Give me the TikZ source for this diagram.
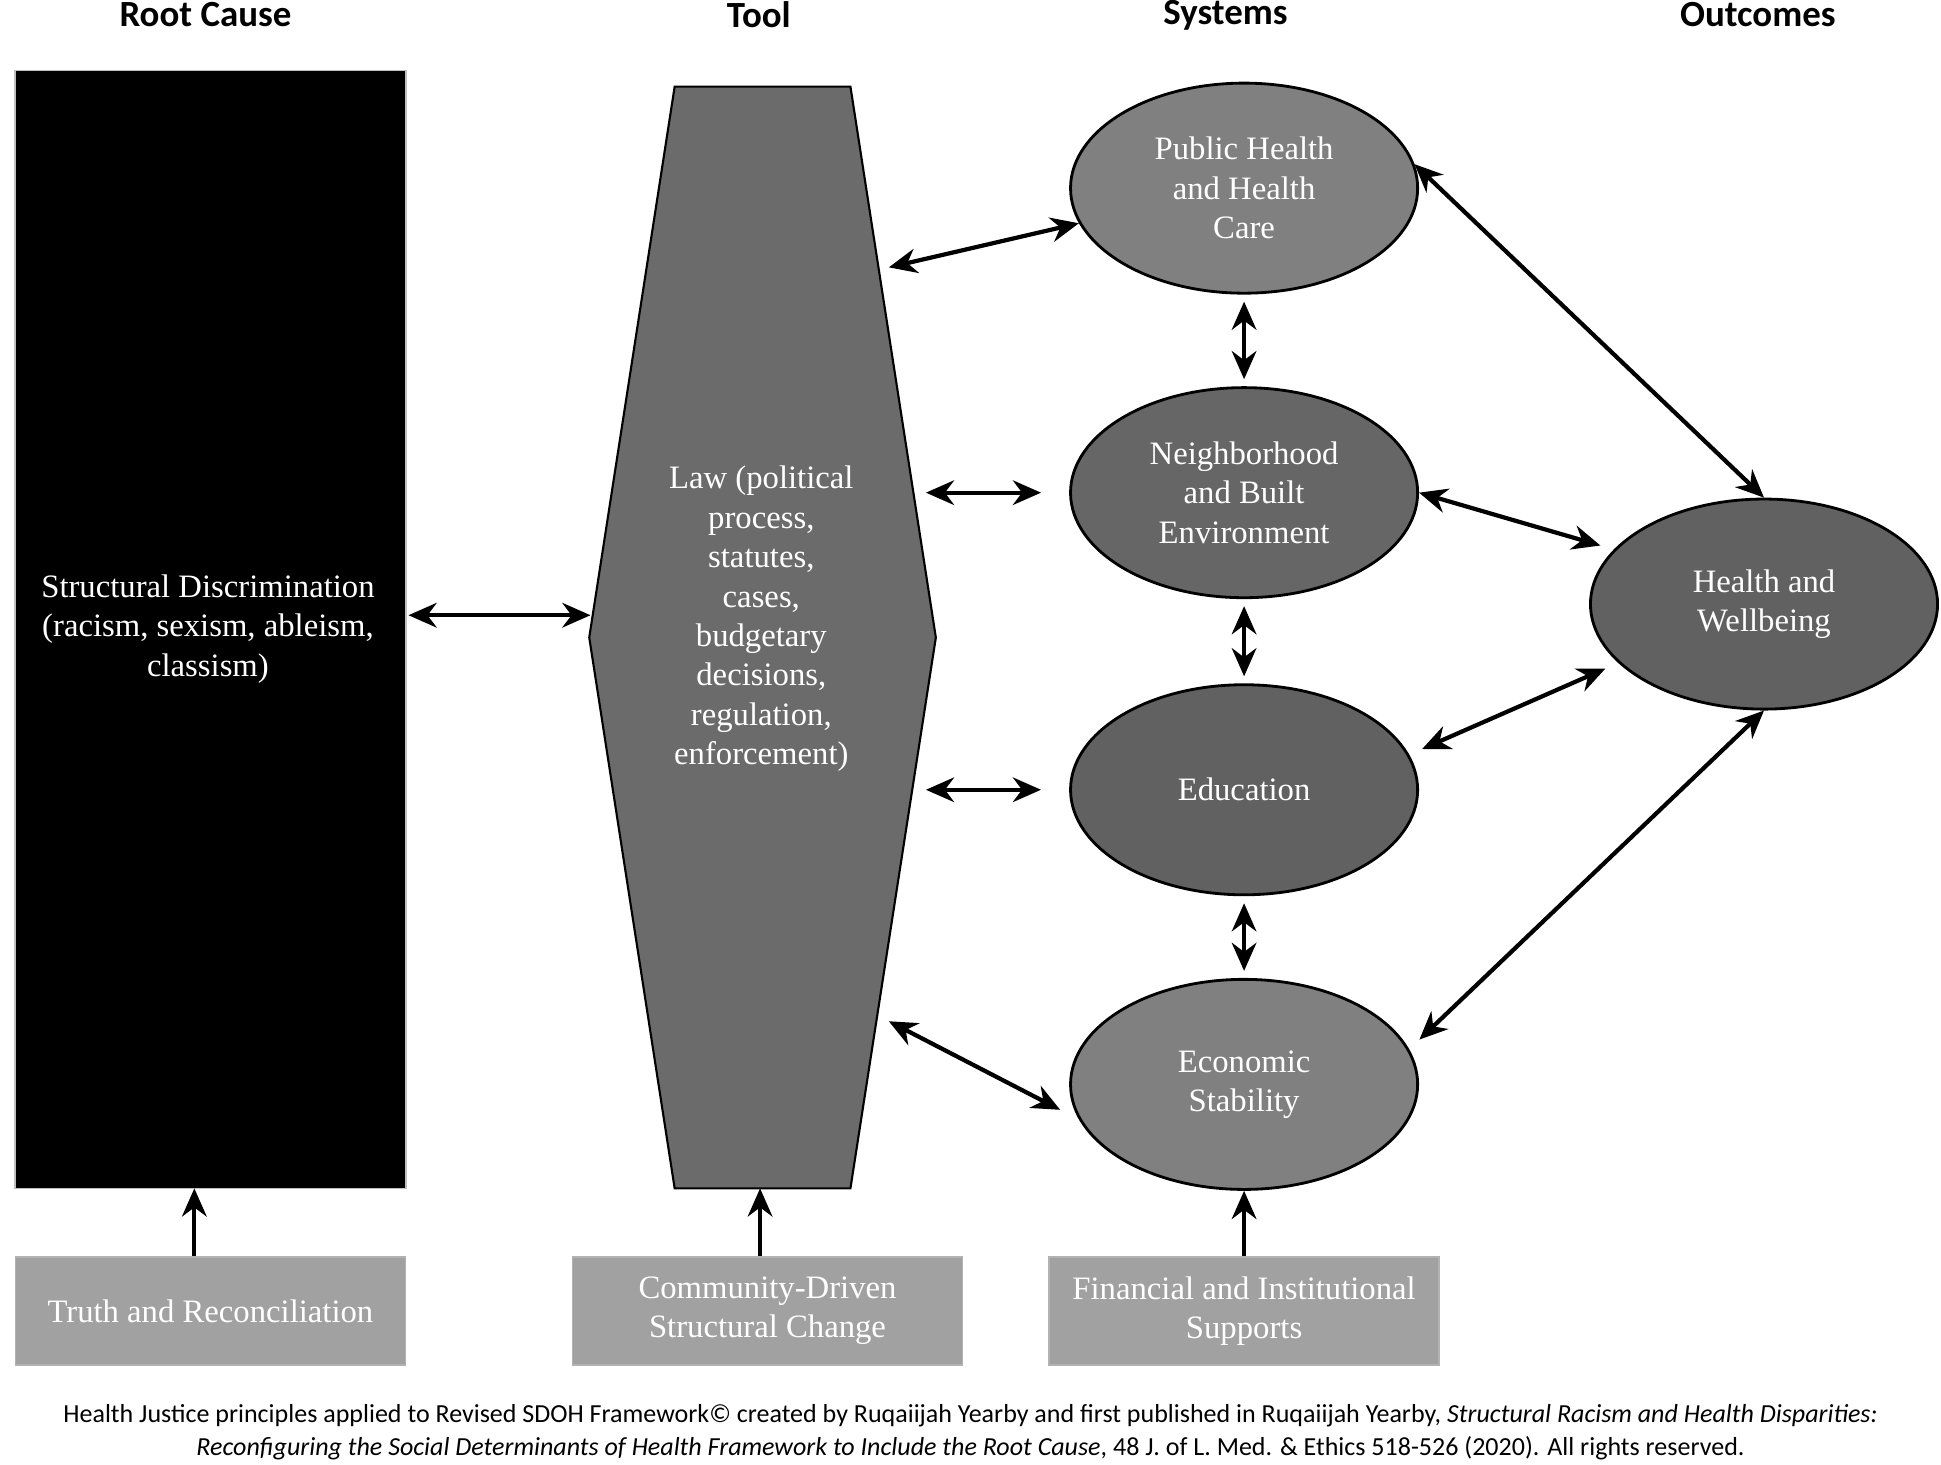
\documentclass[tikz,border=0pt]{standalone}
\usepackage{fontspec}
\setmainfont{Liberation Serif}
\newfontfamily\hdrfont{Carlito}
\usetikzlibrary{shapes.geometric,arrows.meta}
\tikzset{
  hdr/.style={font=\hdrfont\bfseries\fontsize{10.5}{12}\selectfont},
  sys/.style={ellipse, draw=black, line width=0.8pt, minimum width=3.47cm, minimum height=2.1cm,
    text=white, align=center, font=\fontsize{9.3}{11.2}\selectfont},
  base/.style={rectangle, draw=gray!60, fill=black!37, text=white, align=center,
    minimum width=3.9cm, minimum height=1.08cm, font=\fontsize{9.3}{11.2}\selectfont},
  link/.style={line width=1.2pt, {Stealth[length=8pt,width=7pt]}-{Stealth[length=8pt,width=7pt]}},
  up/.style={line width=1.2pt, -{Stealth[length=8pt,width=7pt]}}
}
\begin{document}
\begin{tikzpicture}[x=0.01238cm, y=-0.01238cm]
\useasboundingbox (0,0) rectangle (1568,1183);
% headers
\node[hdr] at (166,12) {Root Cause};
\node[hdr] at (613,12) {Tool};
\node[hdr] at (990,12) {Systems};
\node[hdr] at (1420,12) {Outcomes};

% root cause
\draw[fill=black, draw=gray!50] (12,57) rectangle (328,960);
\node[text=white, align=center, font=\fontsize{9.3}{11.2}\selectfont] (root) at (168,508)
  {Structural Discrimination\\(racism, sexism, ableism,\\classism)};
\coordinate (rootE) at (330,497);
\coordinate (rootB) at (157,960);

% tool
\draw[fill=black!58, draw=black, line width=0.6pt]
  (545,70) -- (687,70) -- (756,515) -- (687,960) -- (545,960) -- (476,515) -- cycle;
\node[text=white, align=center, font=\fontsize{9.3}{11.2}\selectfont] (law) at (615,500)
  {Law (political\\process,\\statutes,\\cases,\\budgetary\\decisions,\\regulation,\\enforcement)};
\coordinate (lawW) at (477,497);
\coordinate (lawA) at (718,216);
\coordinate (lawB) at (748,398);
\coordinate (lawC) at (748,638);
\coordinate (lawD) at (718,825);
\coordinate (lawS) at (614,960);

% systems
\node[sys, fill=black!50] (ph) at (1005,152) {Public Health\\and Health\\Care};
\node[sys, fill=black!60] (nb) at (1005,398) {Neighborhood\\and Built\\Environment};
\node[sys, fill=black!62] (ed) at (1005,638) {Education};
\node[sys, fill=black!50] (ec) at (1005,876) {Economic\\Stability};
\node[sys, fill=black!62] (hw) at (1425,488) {Health and\\Wellbeing};

% supports
\node[base] (truth) at (170,1059) {Truth and Reconciliation};
\node[base] (comm) at (620,1059) {Community-Driven\\Structural Change};
\node[base] (fin) at (1005,1059) {Financial and Institutional\\Supports};

% arrows
\draw[up] (truth.north -| rootB) -- (rootB);
\draw[up] (comm.north -| lawS) -- (lawS);
\draw[up] (fin) -- (ec);
\draw[link] (rootE) -- (lawW);
\draw[link] (lawA) -- (ph.192);
\draw[link, shorten >=8] (lawB) -- (nb.west);
\draw[link, shorten >=8] (lawC) -- (ed.west);
\draw[link, shorten >=6] (lawD) -- (ec.192);
\draw[link, shorten <=2, shorten >=2] (ph) -- (nb);
\draw[link, shorten <=2, shorten >=2] (nb) -- (ed);
\draw[link, shorten <=2, shorten >=2] (ed) -- (ec);
\draw[link] (ph.8) -- (hw.north);
\draw[link, shorten >=4] (nb.east) -- (hw.160);
\draw[link, shorten <=4, shorten >=4] (ed.12) -- (hw.202);
\draw[link, shorten <=4] (ec.12) -- (hw.south);

% caption
\node[font=\hdrfont\fontsize{7.4}{9.2}\selectfont, align=center] (cap) at (784,1157)
  {Health Justice principles applied to Revised SDOH Framework\textcopyright{} created by Ruqaiijah Yearby and first published in Ruqaiijah Yearby, \textit{Structural Racism and Health Disparities:}\\
  \textit{Reconfiguring the Social Determinants of Health Framework to Include the Root Cause}, 48 J. of L. Med. \& Ethics 518-526 (2020). All rights reserved.};
\end{tikzpicture}
\end{document}
